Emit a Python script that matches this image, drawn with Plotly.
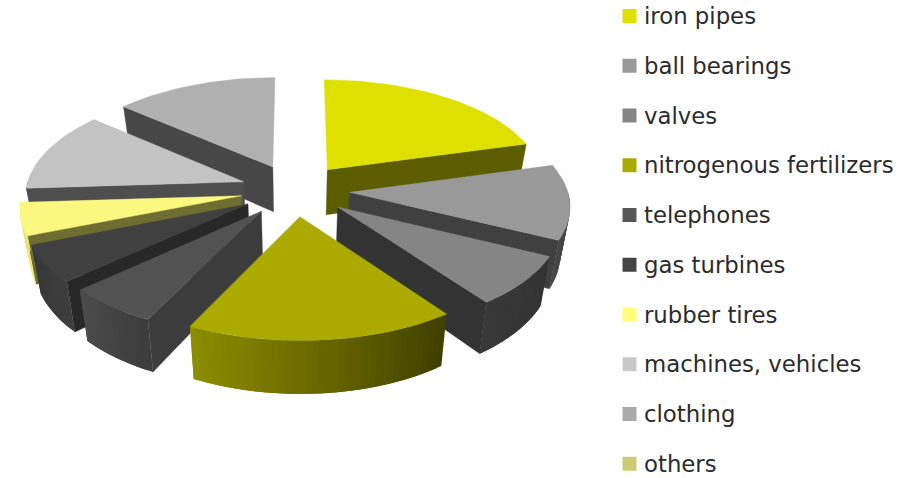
import numpy as np
import plotly.graph_objects as go

categories = ["iron pipes", "ball bearings", "valves", "nitrogenous fertilizers", "telephones",
              "gas turbines", "rubber tires", "machines, vehicles", "clothing", "others"]
values = [20.7, 11.5, 7.7, 17.4, 6.0, 5.7, 5.0, 12.3, 13.7, 0.0]

top_colors = ["#e0e000", "#999999", "#858585", "#aaaa00", "#525252", "#404040", "#fbf77f", "#c3c3c3", "#b0b0b0", "#cccc77"]
cut_colors = ["#5c5c00", "#404040", "#333333", "#444400", "#3c3c3c", "#282828", "#6e6e30", "#4e4e4e", "#474747", "#666633"]
wall_a = ["#5c5c00", "#3a3a3a", "#333333", "#3f3f00", "#3c3c3c", "#3e3e3e", "#f0ec78", "#4e4e4e", "#474747", "#666633"]
wall_b = ["#5c5c00", "#484848", "#383838", "#8e8e00", "#4c4c4c", "#383838", "#e4e070", "#4e4e4e", "#474747", "#666633"]
legend_colors = ["#e0e000", "#999999", "#858585", "#aaaa00", "#585858", "#444444", "#ffff77", "#c8c8c8", "#aaaaaa", "#cccc77"]
draw_order = [9, 8, 0, 7, 1, 6, 5, 4, 2, 3]

X0, Y0, SCALE, TILT, PERSP, EXPLODE, DEPTH, SHRINK = 295, 190, 218, 0.477, 0.11, 0.25, 46, 0.035


def project(x, y, lower=False):
    s = 1 / (1 - PERSP * y)
    px = X0 + SCALE * x * s
    py = Y0 + SCALE * TILT * y * s
    if lower:
        px = X0 + (px - X0) * (1 - SHRINK)
        py = py + DEPTH * s
    return px, py


def ground(a, r, mid):
    return (EXPLODE * np.sin(mid) + r * np.sin(a), -EXPLODE * np.cos(mid) - r * np.cos(a))


def mix(c1, c2, f):
    a = [int(c1[i:i + 2], 16) for i in (1, 3, 5)]
    b = [int(c2[i:i + 2], 16) for i in (1, 3, 5)]
    return "rgb(%d,%d,%d)" % tuple(round(p + (q - p) * f) for p, q in zip(a, b))


def poly(fig, xs, ys, color, name, edge=0.4):
    fig.add_trace(go.Scatter(x=list(xs) + [xs[0]], y=list(ys) + [ys[0]], mode="lines", fill="toself",
                             fillcolor=color, line=dict(color=color, width=edge), name=name,
                             hoverinfo="name", showlegend=False))


fig = go.Figure()
edges = np.cumsum([0] + values) / sum(values) * 2 * np.pi

for i in draw_order:
    a0, a1 = edges[i], edges[i + 1]
    if a1 <= a0:
        continue
    mid = (a0 + a1) / 2
    name = categories[i]
    for edge, normal in ((a0, a0 - np.pi / 2), (a1, a1 + np.pi / 2)):
        if -np.cos(normal) > 0.01:
            p = [ground(mid, 0, mid), ground(edge, 1, mid)]
            up = [project(*q) for q in p]
            lo = [project(*q, lower=True) for q in p]
            poly(fig, [up[0][0], up[1][0], lo[1][0], lo[0][0]], [up[0][1], up[1][1], lo[1][1], lo[0][1]],
                 cut_colors[i], name)
    w0, w1 = max(a0, np.pi / 2), min(a1, 1.5 * np.pi)
    if w1 > w0:
        n = max(2, int((w1 - w0) / np.radians(1.5)))
        steps = np.linspace(w0, w1, n + 1)
        for j in range(n):
            aa = np.linspace(steps[j], steps[min(j + 2, n)], 4)
            pts = [ground(a, 1, mid) for a in aa]
            up = [project(*q) for q in pts]
            lo = [project(*q, lower=True) for q in pts][::-1]
            poly(fig, [q[0] for q in up + lo], [q[1] for q in up + lo],
                 mix(wall_a[i], wall_b[i], (j + 0.5) / n), name, edge=0)
    aa = np.linspace(a0, a1, max(4, int((a1 - a0) / np.radians(2)) + 1))
    pts = [project(*ground(mid, 0, mid))] + [project(*ground(a, 1, mid)) for a in aa]
    poly(fig, [q[0] for q in pts], [q[1] for q in pts], top_colors[i], name)

legend_y = [16 + 49.75 * i for i in range(len(categories))]
fig.add_trace(go.Scatter(x=[629.5] * len(categories), y=legend_y, mode="markers",
                         marker=dict(symbol="square", size=14, color=legend_colors, line=dict(width=0)),
                         hoverinfo="skip", showlegend=False))
fig.add_trace(go.Scatter(x=[644] * len(categories), y=[v + 2.5 for v in legend_y], mode="text", text=categories,
                         textposition="middle right",
                         textfont=dict(family="DejaVu Sans", size=22.8, color="#2b2b2b"),
                         hoverinfo="skip", showlegend=False))

fig.update_layout(width=904, height=478, margin=dict(l=0, r=0, t=0, b=0),
                  paper_bgcolor="white", plot_bgcolor="white",
                  xaxis=dict(range=[0, 904], visible=False, fixedrange=True),
                  yaxis=dict(range=[478, 0], visible=False, fixedrange=True))
fig.write_html("out.html", config={"displayModeBar": False},
               post_script="document.body.style.margin='0';document.body.style.overflow='hidden';")
